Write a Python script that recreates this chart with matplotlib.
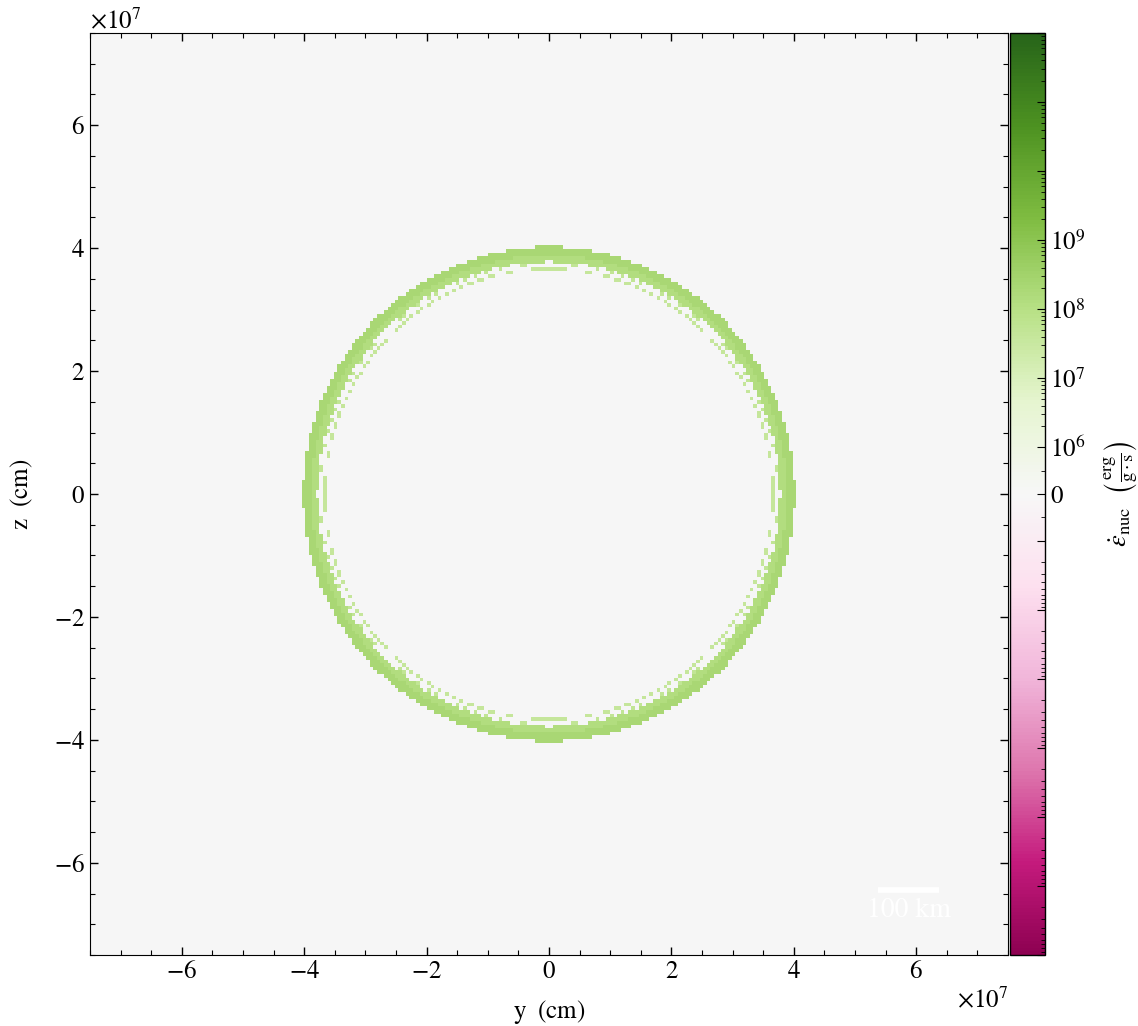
import numpy as np
import matplotlib
matplotlib.use("Agg")
import matplotlib.pyplot as plt
from matplotlib.colors import SymLogNorm
from matplotlib.ticker import FixedLocator, MultipleLocator, ScalarFormatter

plt.rcParams['font.family'] = ['STIXGeneral', 'DejaVu Sans']
plt.rcParams['mathtext.fontset'] = 'stix'
plt.rcParams['font.size'] = 18

# domain (cm) and grid resolution of the slice
half_width = 7.5e7
n_cells = 256

# radial profile of the burning shell: shell boundaries (cm) and eps_nuc (erg/g/s)
shell_inner = [3.648e7, 3.738e7, 3.780e7, 3.880e7]
shell_outer = [3.675e7, 3.752e7, 3.880e7, 4.020e7]
shell_eps = [4.0e7, 5.0e7, 1.3e8, 2.2e8]

# colorbar setup
cbar_major = [-1e12, -1e11, -1e10, -1e9, -1e8, -1e7, -1e6, 0,
              1e6, 1e7, 1e8, 1e9, 1e10, 1e11, 1e12]
cbar_labels = ['', '', '', '', '', '', '', '$0$',
               '$10^{6}$', '$10^{7}$', '$10^{8}$', '$10^{9}$', '', '', '']
scale_len = 1e7  # 100 km

# build slice
c = np.linspace(-half_width, half_width, n_cells + 1)
cc = 0.5 * (c[1:] + c[:-1])
Y, Z = np.meshgrid(cc, cc)
R = np.hypot(Y, Z)
field = np.zeros_like(R)
for r0, r1, v in zip(shell_inner, shell_outer, shell_eps):
    field[(R >= r0) & (R < r1)] = v

fig = plt.figure(figsize=(11.38, 10.26), dpi=100)
ax = fig.add_axes([90 / 1138, 1 - 955 / 1026, 918 / 1138, 922 / 1026])
cax = fig.add_axes([1010 / 1138, 1 - 955 / 1026, 35 / 1138, 922 / 1026])

norm = SymLogNorm(linthresh=1e6, linscale=0.61, vmin=-1e12, vmax=1e12, base=10)
im = ax.imshow(field, origin='lower', cmap='PiYG', norm=norm, interpolation='nearest',
               extent=[-half_width, half_width, -half_width, half_width], aspect='auto')

ax.set_xlim(-half_width, half_width)
ax.set_ylim(-half_width, half_width)
for axis in (ax.xaxis, ax.yaxis):
    fmt = ScalarFormatter(useMathText=True)
    fmt.set_powerlimits((0, 0))
    axis.set_major_formatter(fmt)
    axis.set_major_locator(MultipleLocator(2e7))
    axis.set_minor_locator(MultipleLocator(0.5e7))
ax.tick_params(which='both', direction='in', top=True, right=True)
ax.tick_params(which='major', length=6, width=1)
ax.tick_params(which='minor', length=3.5, width=0.8)
ax.set_xlabel(r'$\rm{y}\ \ (\rm{cm})$', labelpad=10)
ax.set_ylabel(r'$\rm{z}\ \ (\rm{cm})$', labelpad=14)

# scale bar
x0 = 5.375e7
ax.plot([x0, x0 + scale_len], [-6.44e7, -6.44e7], color='white', lw=4, solid_capstyle='butt')
ax.text(x0 + scale_len / 2, -6.78e7, '100 km', color='white', ha='center', va='center',
        fontsize=20)

cb = fig.colorbar(im, cax=cax)
cb.set_ticks(cbar_major)
cb.set_ticklabels(cbar_labels)
minors = []
for e in range(6, 12):
    for m in range(2, 10):
        minors += [m * 10 ** e, -m * 10 ** e]
minors += [5e5, -5e5]
cax.yaxis.set_minor_locator(FixedLocator(minors))
cax.tick_params(which='both', direction='in', right=True, left=False)
cax.tick_params(which='major', length=6, width=0.8)
cax.tick_params(which='minor', length=3, width=0.6)
cb.outline.set_linewidth(1)
cb.set_label(r'$\dot{\epsilon}_{\rm{nuc}}\ \ \left(\frac{\rm{erg}}{\rm{g}\cdot\rm{s}}\right)$',
             labelpad=12, fontsize=19)

fig.savefig('out.png', dpi=100)
